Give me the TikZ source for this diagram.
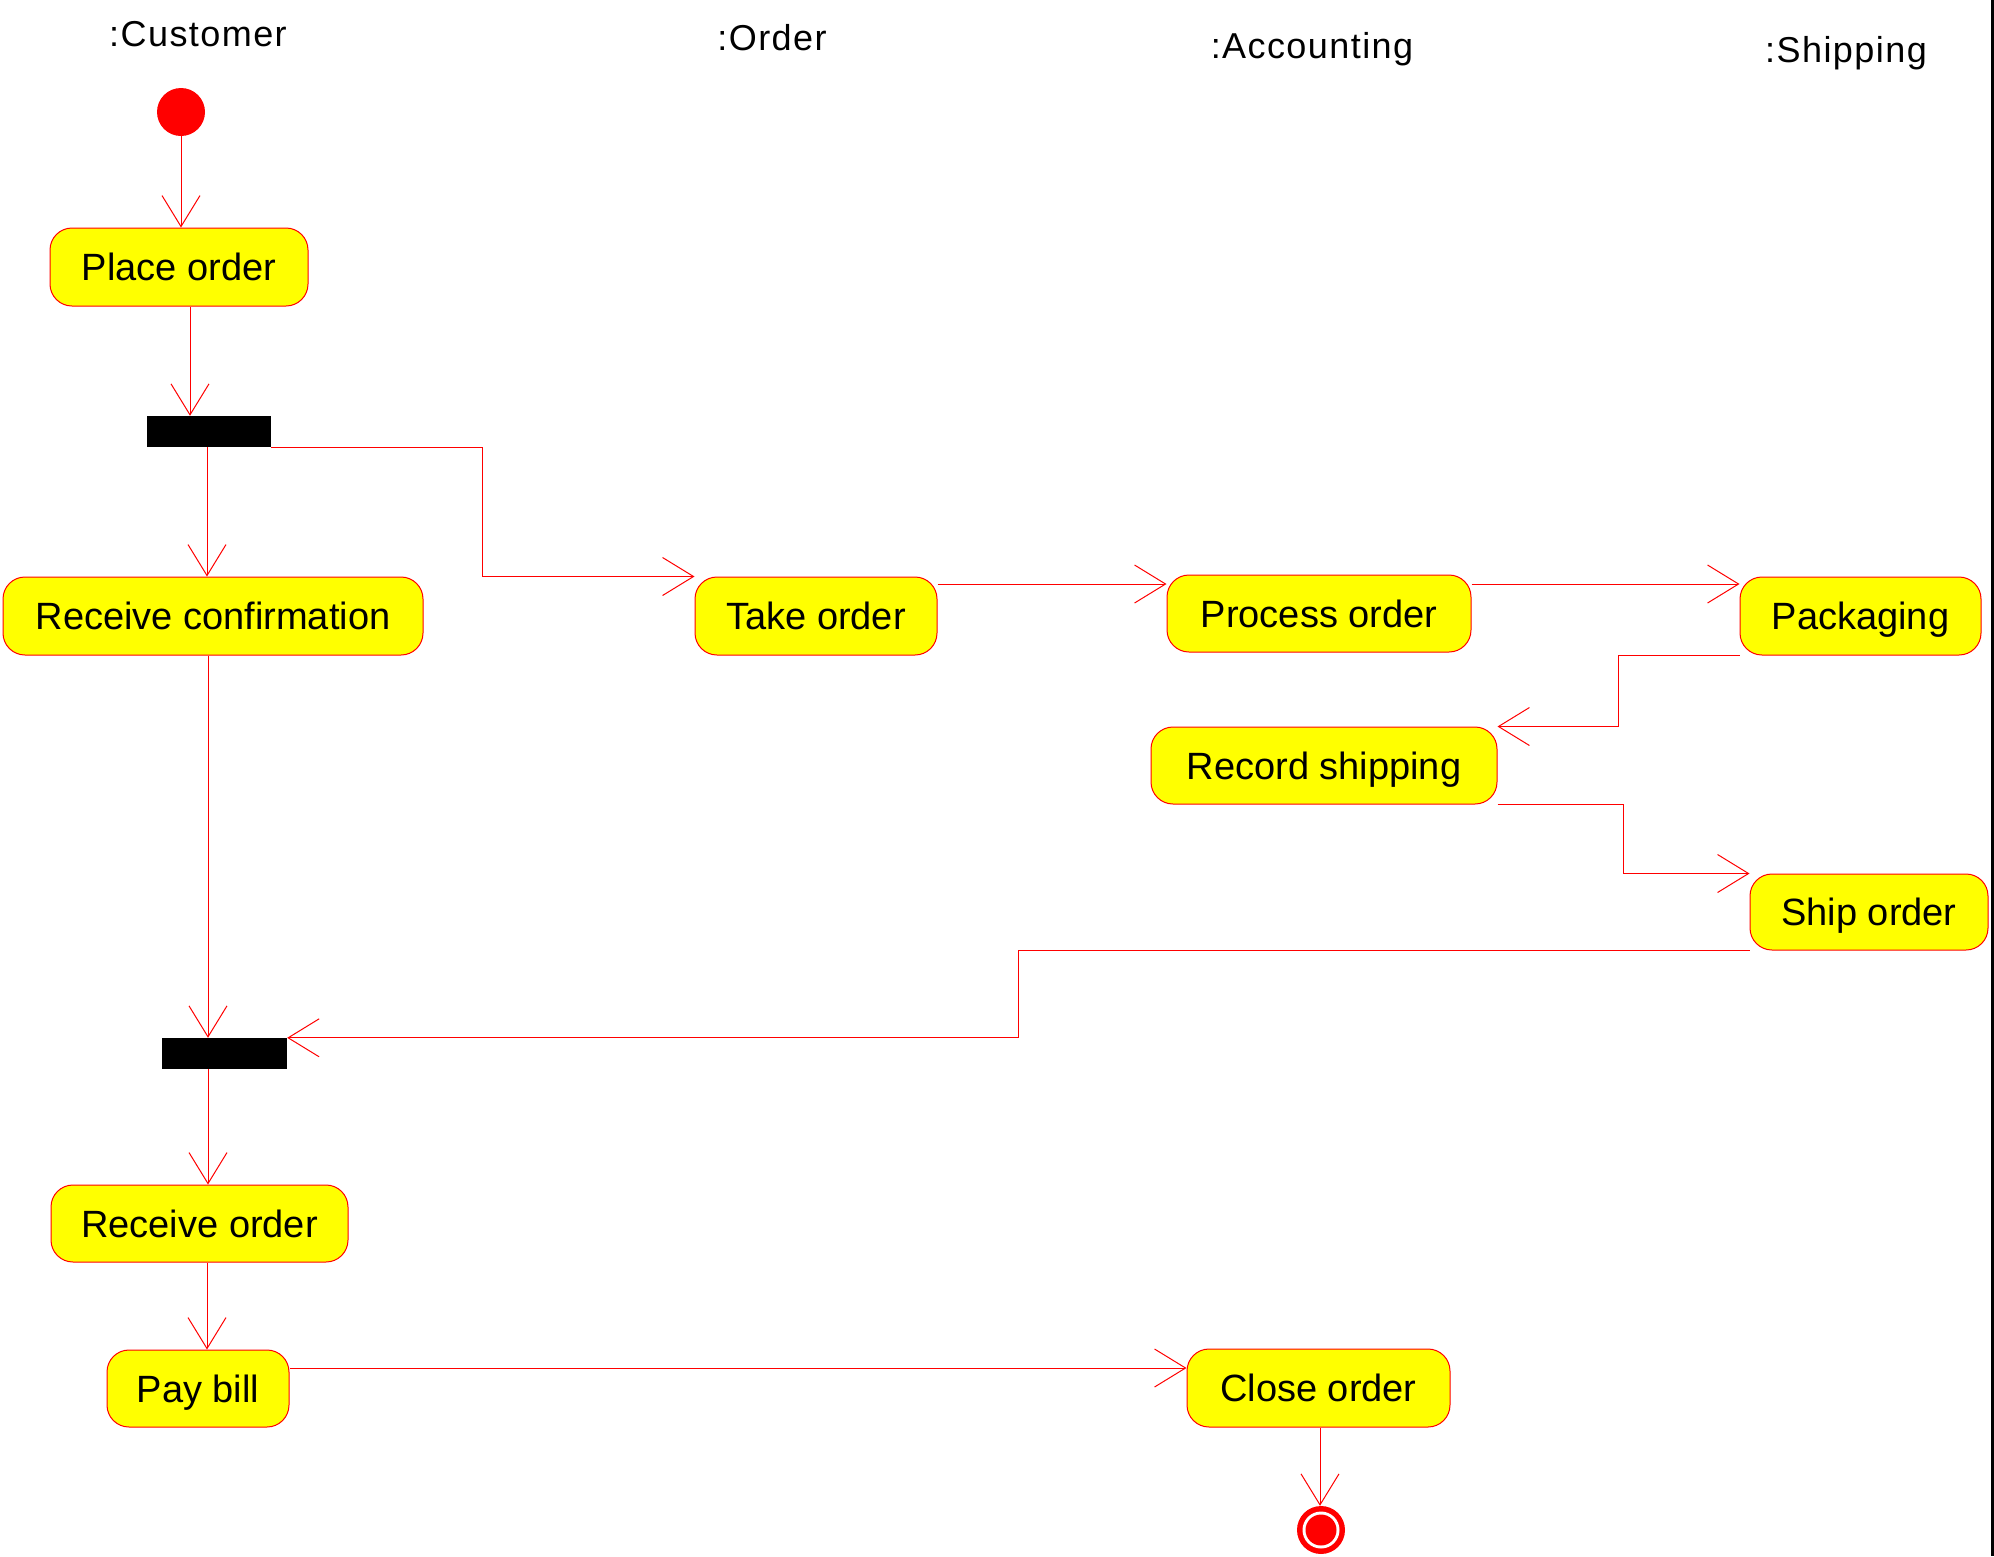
\documentclass[tikz,border=0pt]{standalone}
\usepackage{fontspec}
\setmainfont{Liberation Sans}
\newfontfamily\headfont[LetterSpace=4]{Liberation Sans}
\usetikzlibrary{arrows.meta}
\definecolor{umlred}{RGB}{255,0,0}
\definecolor{umlyellow}{RGB}{255,255,0}
\tikzset{
  activity/.style={draw=umlred, line width=1pt, fill=umlyellow, rounded corners=22pt,
    inner sep=0pt, text height=27pt, text depth=0pt,
    font=\fontsize{38}{44}\selectfont},
  syncbar/.style={fill=black, draw=none, inner sep=0pt, minimum height=31pt},
  lane/.style={anchor=base, inner sep=0pt, font=\headfont\fontsize{36}{42}\selectfont},
  flow/.style={draw=umlred, line width=1pt,
    -{Straight Barb[length=31pt,width=38pt,line width=1pt]}},
  plain/.style={draw=umlred, line width=1pt}
}
\begin{document}
\begin{tikzpicture}[x=1pt,y=-1pt]
\useasboundingbox (0,0) rectangle (1994,1556);
\fill[white] (0,0) rectangle (1994,1556);
\fill[black] (1991,0) rectangle (1994,1556);

% swimlane headings
\node[lane] (hcust) at (198,46) {:Customer};
\node[lane] (hord)  at (772,50) {:Order};
\node[lane] (hacc)  at (1312,58) {:Accounting};
\node[lane] (hship) at (1846,62) {:Shipping};

% initial and final states
\node[circle, fill=umlred, minimum size=48pt, inner sep=0pt] (init) at (181,112) {};
\node[circle, fill=umlred, minimum size=48pt, inner sep=0pt] (final) at (1321,1530) {};
\fill[white] (final.center) circle (18.5);
\fill[umlred] (final.center) circle (15.5);

% activities
\node[activity, minimum width=258pt, minimum height=78pt] (place) at (179,267) {Place order};
\node[activity, minimum width=420pt, minimum height=78pt] (rc) at (213,616) {Receive confirmation};
\node[activity, minimum width=242pt, minimum height=78pt] (take) at (816,616) {Take order};
\node[activity, minimum width=304pt, minimum height=77pt] (process) at (1319,613.5) {Process order};
\node[activity, minimum width=241pt, minimum height=78pt] (pack) at (1860.5,616) {Packaging};
\node[activity, minimum width=346pt, minimum height=77pt] (record) at (1324,765.5) {Record shipping};
\node[activity, minimum width=238pt, minimum height=76pt] (ship) at (1869,912) {Ship order};
\node[activity, minimum width=297pt, minimum height=77pt] (ro) at (199.5,1223.5) {Receive order};
\node[activity, minimum width=182pt, minimum height=77pt] (pay) at (198,1388.5) {Pay bill};
\node[activity, minimum width=263pt, minimum height=78pt] (close) at (1318.5,1388) {Close order};

% fork / join bars
\node[syncbar, minimum width=124pt] (fork) at (209,431.5) {};
\node[syncbar, minimum width=125pt] (join) at (224.5,1053.5) {};

% connectors
\draw[flow] (init) -- (init |- place.north);
\draw[flow] (190,0 |- place.south) -- (190,0 |- fork.north);
\draw[flow] (207,0 |- fork.south) -- (207,0 |- rc.north);
\draw[flow] (fork.south east) -- (482,0 |- fork.south east) -- (482,0 |- take.north west) -- (take.north west);
\draw[flow] (take.east |- 0,584) -- (process.west |- 0,584);
\draw[flow] (process.east |- 0,584) -- (pack.west |- 0,584);
\draw[flow] (pack.south west) -- (1618,0 |- pack.south west) -- (1618,0 |- record.north east) -- (record.north east);
\draw[flow] (record.south east) -- (1623,0 |- record.south east) -- (1623,0 |- ship.north west) -- (ship.north west);
\draw[flow] (ship.south west) -- (1018,0 |- ship.south west) -- (1018,0 |- join.north east) -- (join.north east);
\draw[flow] (208,0 |- rc.south) -- (208,0 |- join.north);
\draw[flow] (208,0 |- join.south) -- (208,0 |- ro.north);
\draw[flow] (207,0 |- ro.south) -- (207,0 |- pay.north);
\draw[flow] (pay.east |- 0,1368) -- (close.west |- 0,1368);
\draw[flow] (1320,0 |- close.south) -- (1320,0 |- final.north);
\end{tikzpicture}
\end{document}
